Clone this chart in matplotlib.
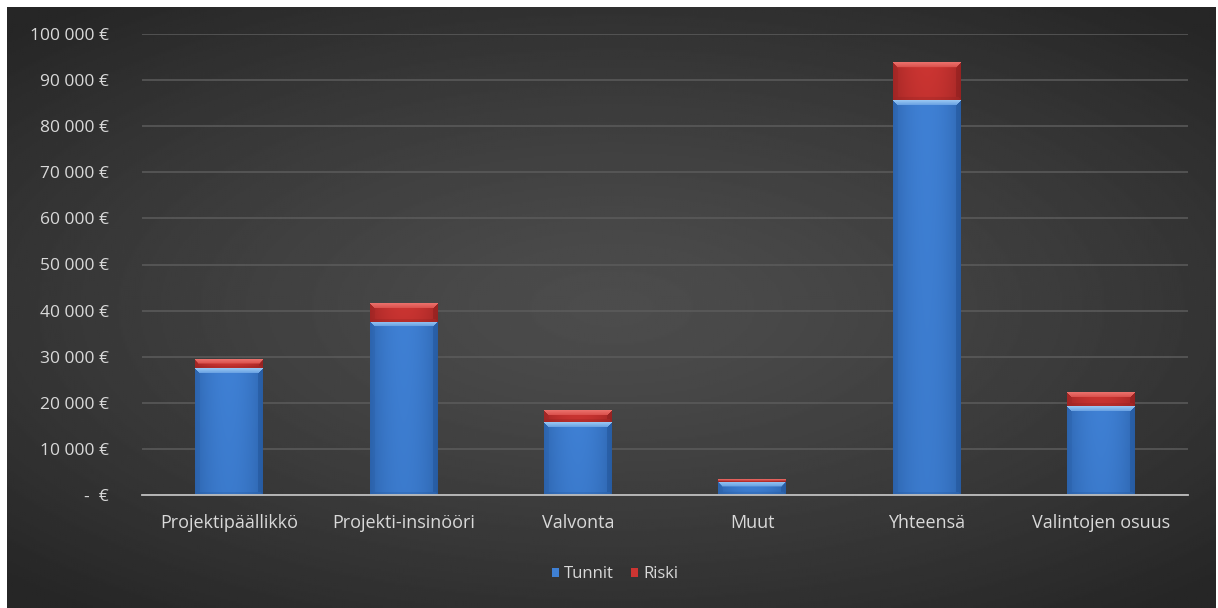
import numpy as np
import matplotlib.pyplot as plt
from matplotlib.patches import Patch
from matplotlib.colors import to_rgb
from matplotlib.ticker import FuncFormatter

kategoriat = ["Projektipäällikkö", "Projekti-insinööri", "Valvonta", "Muut", "Yhteensä", "Valintojen osuus"]
tunnit = [27500, 37600, 15800, 2900, 85600, 19300]
riski = [1800, 4100, 2600, 500, 8100, 3000]
sarjat = ["Tunnit", "Riski"]
y_ticks = list(range(0, 100001, 10000))

W, H = 1218, 608
plt.rcParams['font.family'] = ['Open Sans', 'DejaVu Sans']
fig = plt.figure(figsize=(W / 100, H / 100), dpi=100, facecolor='white')

# tumma taustapaneeli, keskeltä vaaleampi
bg = fig.add_axes([7 / W, 0, (1216 - 7) / W, (608 - 7) / H])
yy, xx = np.mgrid[-1:1:300j, -1:1:600j]
r = np.sqrt(xx ** 2 + (yy * 1.1) ** 2) / np.sqrt(2)
arvo = 0.30 - 0.15 * np.clip(r, 0, 1) ** 1.3
bg.imshow(arvo, cmap='gray', vmin=0, vmax=1, extent=(0, 1, 0, 1), aspect='auto')
bg.axis('off')

ax = fig.add_axes([142 / W, (608 - 495) / H, (1188 - 142) / W, (495 - 34) / H])
ax.patch.set_alpha(0)
ax.set_xlim(-0.5, len(kategoriat) - 0.5)
ax.set_ylim(0, 100000)

x = np.arange(len(kategoriat))
leveys = 0.39
b1 = ax.bar(x, tunnit, leveys, color='#3d7dd0', zorder=3)
b2 = ax.bar(x, riski, leveys, bottom=tunnit, color='#c8322f', zorder=3)


def viisto(rect, perus, vaalea, tumma):
    # piirtää pylvään päälle viistetyn reunan kuvana
    x0, y0 = rect.get_x(), rect.get_y()
    w, h = rect.get_width(), rect.get_height()
    (px0, py0), (px1, py1) = ax.transData.transform([(x0, y0), (x0 + w, y0 + h)])
    nx = max(int(round(px1 - px0)), 2)
    ny = max(int(round(py1 - py0)), 2)
    ix = np.arange(nx) + 0.5
    iy = np.arange(ny) + 0.5
    dl = np.tile(ix, (ny, 1))
    dr = nx - dl
    dt = np.tile(iy[:, None], (1, nx))
    db = ny - dt
    b = min(5.0, ny / 2.0)
    p = np.array(to_rgb(perus))
    v = np.array(to_rgb(vaalea))
    t = np.array(to_rgb(tumma))
    # vaakasuora sävytys: reunat tummempia
    u = (dl / nx - 0.5) * 2
    k = (np.abs(u) ** 2)[..., None] * 0.45
    img = p * (1 - k) + t * k
    # pystysuora: alaosa hieman tummempi
    vy = (dt / ny)[..., None] * 0.1
    img = img * (1 - vy) + t * vy
    ylä = (dt < b) & (dt <= dl) & (dt <= dr)
    f = (1 - dt / b)[..., None] * 0.5 + 0.4
    img = np.where(ylä[..., None], v * f + p * (1 - f), img)
    ala = (db < b * 0.6) & (db <= dl) & (db <= dr)
    img = np.where(ala[..., None], img * 0.8 + t * 0.2, img)
    vas = (dl < b) & (dl < dt) & ~ala
    img = np.where(vas[..., None], img * 0.85 + t * 0.15, img)
    oik = (dr < b) & (dr < dt) & ~ala
    img = np.where(oik[..., None], img * 0.6 + t * 0.4, img)
    ax.imshow(np.clip(img, 0, 1), extent=(x0, x0 + w, y0, y0 + h), aspect='auto',
              interpolation='bilinear', zorder=4)
    rect.set_visible(False)


for rect in b1:
    viisto(rect, '#3f80d4', '#a6d2f8', '#1d4c8c')
for rect in b2:
    viisto(rect, '#cc3532', '#f07a74', '#7e1a1a')

ax.set_xlim(-0.5, len(kategoriat) - 0.5)
ax.set_ylim(0, 100000)

ax.set_yticks(y_ticks)
ax.yaxis.set_major_formatter(FuncFormatter(
    lambda v, pos: "-  €" if v == 0 else f"{int(v):,} €".replace(",", " ")))
ax.set_xticks(x)
ax.set_xticklabels(kategoriat)
ax.tick_params(axis='y', length=0, pad=24, labelsize=12.5, labelcolor='#d9d9d9')
ax.tick_params(axis='x', length=0, pad=14, labelsize=13, labelcolor='#d9d9d9')

ax.grid(axis='y', color='#5c5c5c', linewidth=1.1, zorder=1)
for s in ['top', 'right', 'left']:
    ax.spines[s].set_visible(False)
ax.spines['bottom'].set_color('#bfbfbf')
ax.spines['bottom'].set_linewidth(1.3)
ax.spines['bottom'].set_zorder(5)

kahvat = [Patch(facecolor='#3f80d4', edgecolor='none'),
          Patch(facecolor='#cc3532', edgecolor='none')]
fig.legend(kahvat, sarjat, loc='center', bbox_to_anchor=(615 / W, (608 - 574) / H),
           ncol=2, frameon=False, fontsize=12, labelcolor='#d9d9d9',
           handlelength=0.45, handleheight=0.45, handletextpad=0.3, columnspacing=1.0)

fig.savefig('out.png', dpi=100, facecolor='white')
